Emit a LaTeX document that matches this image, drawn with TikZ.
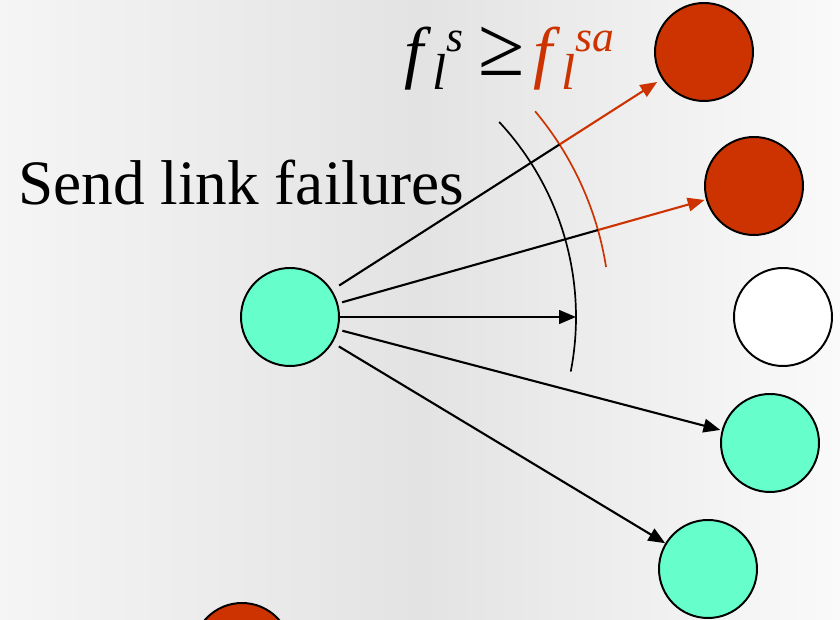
\documentclass[tikz,border=0pt]{standalone}
\usepackage{fontspec}
\setmainfont{Liberation Serif}
\usetikzlibrary{arrows.meta,calc}
\definecolor{lost}{HTML}{CC3300}
\definecolor{alive}{HTML}{66FFCC}

\newcommand{\supsz}{\fontsize{31}{31}\selectfont\itshape}
\newcommand{\subsz}{\fontsize{36}{36}\selectfont\itshape}
\newcommand{\linkload}[1]{\textit{f}\makebox[0pt][l]{\kern0.02em\raisebox{-0.19em}{\subsz l}}\kern0.22em\raisebox{0.35em}{\supsz #1}}

\begin{document}
\begin{tikzpicture}[
    font=\fontsize{45}{50}\selectfont,
    host/.style={circle, draw=black, line width=1.4pt, minimum size=24.5mm, inner sep=0pt},
    link/.style={line width=1.5pt},
    push/.style={link, -{Triangle[length=4.2mm, width=3.4mm]}},
    ring/.style={line width=1.2pt},
]
\useasboundingbox (0,0) rectangle (21,15.5);
\clip (0,0) rectangle (21,15.5);

% ---- background ----
\shade[left color=black!4, right color=black!2, middle color=black!11] (0,0) rectangle (21,15.5);

% ---- hosts ----
\node[host, fill=alive] (src) at (7.25,7.575) {};
\node[host, fill=lost] (up1) at (17.6,14.2) {};
\node[host, fill=lost] (up2) at (18.85,10.85) {};
\node[host, fill=white] (idle) at (19.575,7.575) {};
\node[host, fill=alive] (dn1) at (19.25,4.425) {};
\node[host, fill=alive] (dn2) at (17.7,1.275) {};
\node[host, fill=lost] (far) at (6.05,-0.8) {};

% ---- thresholds ----
\draw[ring] ($(src.center)+(43:7.15)$) arc[start angle=43, end angle=-11, radius=7.15];
\draw[ring, lost] ($(src.center)+(40:8)$) arc[start angle=40, end angle=9, radius=8];

% ---- failure messages ----
\coordinate (cut1) at ($(src.center)!8cm!(up1.center)$);
\coordinate (cut2) at ($(src.center)!8cm!(up2.center)$);
\coordinate (hit) at ($(src.center)+(7.15,0)$);
\draw[link, shorten <=6pt] (src) -- (cut1);
\draw[push, lost, shorten >=4pt] (cut1) -- (up1);
\draw[link, shorten <=3pt] (src) -- (cut2);
\draw[push, lost, shorten >=1pt] (cut2) -- (up2);
\draw[push] (src) -- (hit);
\draw[push, shorten <=3pt, shorten >=1pt] (src) -- (dn1);
\draw[push, shorten <=5pt] (src) -- (dn2);

% ---- labels ----
\node[anchor=base west, inner sep=0pt] (title) at (0.45,10.375) {Send link failures};
\node[anchor=base west, inner sep=0pt, font=\fontsize{49}{52}\selectfont] (rule) at (10.1,13.6)
    {\linkload{s}\kern0.22em{\fontsize{60}{60}\selectfont≥}\kern0.12em\textcolor{lost}{\linkload{sa}}};
\end{tikzpicture}
\end{document}
